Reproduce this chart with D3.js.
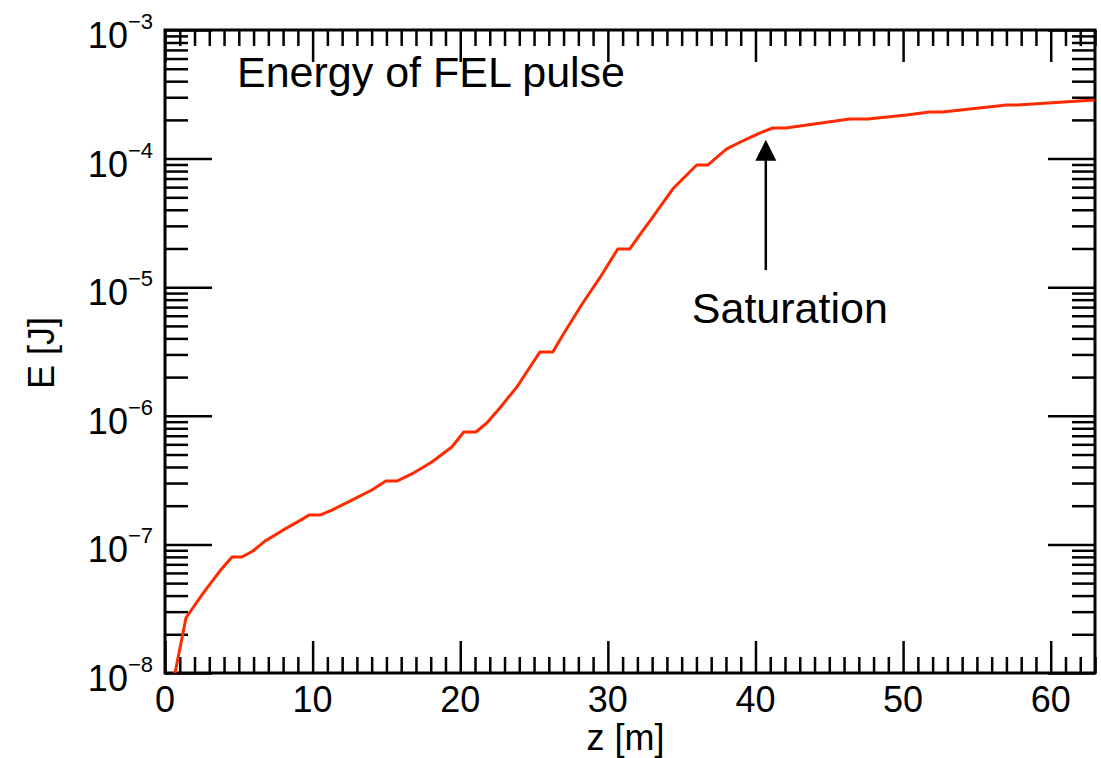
<!DOCTYPE html>
<html>
<head>
<meta charset="utf-8">
<script src="https://cdn.jsdelivr.net/npm/d3@7"></script>
<style>
  body { margin: 0; background: #fff; }
  text { font-family: "Liberation Sans", Arial, Helvetica, sans-serif; fill: #000; }
</style>
</head>
<body>
<div id="chart"></div>
<script>
// distance along undulator [m]
var zValues = [0.68, 1.42, 2.0, 2.6, 3.2, 3.8, 4.54, 5.21, 5.96, 6.77, 7.99, 9.34, 9.75, 10.49,
  11.31, 12.66, 14.01, 14.96, 15.71, 16.72, 18.08, 19.43, 20.24, 21.06, 21.80, 22.68, 23.83,
  24.64, 25.39, 26.27, 26.95, 28.30, 29.45, 30.67, 31.48, 32.16, 33.04, 34.39, 35.34, 36.02, 36.76,
  38.05, 39.40, 40.28, 41.17, 42.05, 46.38, 47.60, 50.24, 51.79, 52.67, 57.01, 57.75, 62.97];
// pulse energy [J]
var energyValues = [1.0e-8, 2.68e-8, 3.35e-8, 4.19e-8, 5.19e-8, 6.38e-8, 7.98e-8, 7.98e-8, 8.89e-8, 1.06e-7,
  1.29e-7, 1.58e-7, 1.69e-7, 1.69e-7, 1.85e-7, 2.21e-7, 2.65e-7, 3.11e-7, 3.11e-7, 3.53e-7,
  4.37e-7, 5.72e-7, 7.48e-7, 7.48e-7, 8.79e-7, 1.15e-6, 1.67e-6, 2.31e-6, 3.13e-6, 3.13e-6, 4.25e-6,
  7.54e-6, 1.18e-5, 1.98e-5, 1.98e-5, 2.55e-5, 3.51e-5, 5.80e-5, 7.45e-5, 8.91e-5, 8.91e-5,
  1.19e-4, 1.42e-4, 1.58e-4, 1.73e-4, 1.73e-4, 2.03e-4, 2.03e-4, 2.18e-4, 2.30e-4, 2.30e-4,
  2.61e-4, 2.61e-4, 2.86e-4];

var xMajorTicks = [0, 10, 20, 30, 40, 50, 60];
var yExponents = [-8, -7, -6, -5, -4, -3];
var satZ = 40.7, satTip = 1.40e-4, satTail = 1.36e-5;

var margin = { top: 30, right: 6, bottom: 85, left: 165 };
var width = 1101 - margin.left - margin.right;
var height = 758 - margin.top - margin.bottom;

var svg = d3.select("#chart").append("svg")
  .attr("width", 1101).attr("height", 758)
  .append("g")
  .attr("transform", "translate(" + margin.left + "," + margin.top + ")");

var x = d3.scaleLinear().domain([0, 63]).range([0, width]);
var y = d3.scaleLog().domain([1e-8, 1e-3]).range([height, 0]);

var xMinor = d3.range(1, 64).filter(function (d) { return d % 10 != 0; });
var yMajor = yExponents.map(function (e) { return Math.pow(10, e); });
var yMinor = [];
for (var e = -8; e < -3; e++) {
  for (var m = 2; m <= 9; m++) yMinor.push(m * Math.pow(10, e));
}

function styleAxis(g) {
  g.select(".domain").remove();
  g.selectAll("line").attr("stroke", "#000").attr("stroke-width", 2.5);
}

// bottom and top ticks (inward)
svg.append("g").attr("transform", "translate(0," + height + ")")
  .call(d3.axisBottom(x).tickValues(xMajorTicks).tickSize(-32).tickFormat("")).call(styleAxis);
svg.append("g").attr("transform", "translate(0," + height + ")")
  .call(d3.axisBottom(x).tickValues(xMinor).tickSize(-16).tickFormat("")).call(styleAxis);
svg.append("g")
  .call(d3.axisTop(x).tickValues(xMajorTicks).tickSize(-32).tickFormat("")).call(styleAxis);
svg.append("g")
  .call(d3.axisTop(x).tickValues(xMinor).tickSize(-16).tickFormat("")).call(styleAxis);

// left and right ticks (inward)
svg.append("g").call(d3.axisLeft(y).tickValues(yMajor).tickSize(-47).tickFormat("")).call(styleAxis);
svg.append("g").call(d3.axisLeft(y).tickValues(yMinor).tickSize(-23).tickFormat("")).call(styleAxis);
svg.append("g").attr("transform", "translate(" + width + ",0)")
  .call(d3.axisRight(y).tickValues(yMajor).tickSize(-47).tickFormat("")).call(styleAxis);
svg.append("g").attr("transform", "translate(" + width + ",0)")
  .call(d3.axisRight(y).tickValues(yMinor).tickSize(-23).tickFormat("")).call(styleAxis);

// frame
svg.append("rect").attr("width", width).attr("height", height)
  .attr("fill", "none").attr("stroke", "#000").attr("stroke-width", 3);

// x tick labels
svg.selectAll(".xlab").data(xMajorTicks).enter().append("text")
  .attr("class", "xlab")
  .attr("x", function (d) { return x(d); })
  .attr("y", height + 39)
  .attr("text-anchor", "middle")
  .style("font-size", "36px")
  .text(function (d) { return d; });

// y tick labels 10^e
var ylab = svg.selectAll(".ylab").data(yExponents).enter().append("text")
  .attr("class", "ylab")
  .attr("x", -12)
  .attr("y", function (d) { return y(Math.pow(10, d)) + 18; })
  .attr("text-anchor", "end")
  .style("font-size", "36px");
ylab.append("tspan").text("10");
ylab.append("tspan").attr("dy", -19).style("font-size", "22px")
  .text(function (d) { return "\u2212" + Math.abs(d); });

// axis titles
svg.append("text")
  .attr("x", x(31.2)).attr("y", height + 77)
  .attr("text-anchor", "middle")
  .style("font-size", "36px")
  .text("z [m]");
svg.append("text")
  .attr("transform", "translate(" + (54 - margin.left) + "," + (353 - margin.top) + ") rotate(-90)")
  .attr("text-anchor", "middle")
  .style("font-size", "36px")
  .text("E [J]");

// title
svg.append("text")
  .attr("x", 72).attr("y", 57)
  .style("font-size", "43px")
  .text("Energy of FEL pulse");

// energy curve
var line = d3.line()
  .x(function (d) { return x(d[0]); })
  .y(function (d) { return y(d[1]); });
var pts = zValues.map(function (z, i) { return [z, energyValues[i]]; });
svg.append("path").datum(pts)
  .attr("d", line)
  .attr("fill", "none")
  .attr("stroke", "#ff2a00")
  .attr("stroke-width", 3)
  .attr("stroke-linejoin", "round");

// saturation arrow
var ax = x(satZ), tipY = y(satTip), tailY = y(satTail);
svg.append("line")
  .attr("x1", ax).attr("x2", ax)
  .attr("y1", tailY).attr("y2", tipY + 20)
  .attr("stroke", "#000").attr("stroke-width", 2.5);
svg.append("path")
  .attr("d", "M" + ax + "," + tipY + "L" + (ax - 10.5) + "," + (tipY + 21) + "L" + (ax + 10.5) + "," + (tipY + 21) + "Z")
  .attr("fill", "#000");
svg.append("text")
  .attr("x", ax + 24).attr("y", tailY + 53)
  .attr("text-anchor", "middle")
  .style("font-size", "43px")
  .text("Saturation");
</script>
</body>
</html>
